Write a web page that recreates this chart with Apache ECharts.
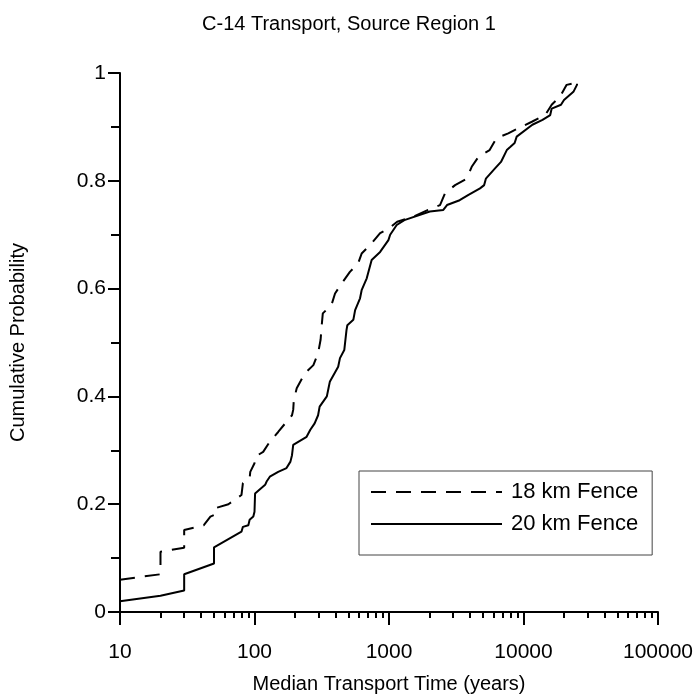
<!DOCTYPE html>
<html>
<head>
<meta charset="utf-8">
<script src="https://cdn.jsdelivr.net/npm/echarts@6/dist/echarts.min.js"></script>
<style>
  html, body { margin: 0; padding: 0; background: #fff; }
  #chart { width: 698px; height: 697px; }
</style>
</head>
<body>
<div id="chart"></div>
<script>
// Cumulative distributions of median C-14 transport time (years)
const fence18 = [
  [10,0.06],[20,0.07],[20,0.112],[30,0.119],[30,0.152],[42,0.161],[47,0.177],[50,0.18],[50,0.192],
  [64,0.20],[80,0.217],[82,0.239],[92,0.248],[93,0.26],[100,0.276],[101,0.288],[116,0.297],
  [130,0.316],[150,0.334],[173,0.353],[190,0.365],[194,0.375],[196,0.393],[206,0.415],[237,0.443],
  [274,0.458],[297,0.48],[310,0.505],[316,0.532],[322,0.554],[374,0.57],[397,0.591],[455,0.613],
  [512,0.631],[590,0.647],[626,0.665],[743,0.684],[859,0.703],[1000,0.712],[1150,0.724],[1500,0.733],
  [1954,0.746],[2395,0.755],[2610,0.777],[3100,0.792],[3790,0.804],[4120,0.826],[4640,0.845],
  [5600,0.857],[6300,0.879],[7700,0.888],[9600,0.90],[11640,0.91],[14500,0.922],[16200,0.941],
  [18660,0.956],[20930,0.978],[23500,0.981],[25000,0.985]
];
const fence20 = [
  [10,0.02],[20,0.03],[30,0.04],[30,0.07],[50,0.09],[50,0.12],[80,0.149],[82,0.158],[90,0.161],
  [92,0.171],[98,0.177],[100,0.186],[101,0.22],[120,0.236],[123,0.242],[130,0.251],[150,0.26],
  [173,0.267],[185,0.279],[190,0.291],[194,0.31],[244,0.325],[260,0.338],[280,0.35],[297,0.365],
  [305,0.381],[345,0.40],[355,0.415],[363,0.427],[419,0.455],[432,0.471],[465,0.486],[470,0.489],
  [483,0.523],[490,0.532],[543,0.542],[560,0.56],[609,0.582],[626,0.597],[683,0.619],[743,0.653],
  [859,0.668],[990,0.69],[1020,0.70],[1141,0.718],[1300,0.727],[2012,0.743],[2534,0.746],[2700,0.755],
  [3352,0.764],[3900,0.774],[4750,0.786],[5100,0.792],[5250,0.804],[6142,0.823],[6800,0.835],
  [7513,0.857],[8000,0.863],[8590,0.87],[8900,0.882],[11640,0.904],[13850,0.913],[15800,0.922],
  [16200,0.934],[19000,0.941],[20000,0.95],[23500,0.965],[24970,0.978],[25000,0.98]
];
const seriesNames = ['18 km Fence', '20 km Fence'];
const xDecades = [10, 100, 1000, 10000, 100000];
const yTicks = [0, 0.2, 0.4, 0.6, 0.8, 1];

// minor log ticks at 2..9 within each decade
const xMinorTicks = [];
for (let d = 0; d < xDecades.length - 1; d++) {
  for (let m = 2; m <= 9; m++) xMinorTicks.push(xDecades[d] * m);
}

const FONT = '"Liberation Sans", Arial, Helvetica, sans-serif';
const chart = echarts.init(document.getElementById('chart'), null, { renderer: 'canvas' });

chart.setOption({
  animation: false,
  backgroundColor: '#fff',
  title: {
    text: 'C-14 Transport, Source Region 1',
    left: 'center',
    top: 9,
    textStyle: { fontFamily: FONT, fontSize: 20, fontWeight: 'normal', color: '#000' }
  },
  legend: {
    data: seriesNames,
    orient: 'vertical',
    left: 359,
    top: 471,
    padding: [10, 14, 20, 11],
    itemWidth: 131,
    itemHeight: 22,
    itemGap: 10,
    borderColor: '#444',
    borderWidth: 1,
    // line sample only, no marker on it
    itemStyle: { color: 'rgba(0,0,0,0)', borderWidth: 0, opacity: 0 },
    textStyle: { fontFamily: FONT, fontSize: 22, color: '#000', padding: [0, 0, 0, 4] }
  },
  grid: {
    left: 120, right: 40, top: 73, bottom: 85,
    containLabel: false,
    outerBoundsMode: 'none'
  },
  xAxis: [
    {
      type: 'log',
      logBase: 10,
      min: xDecades[0],
      max: xDecades[xDecades.length - 1],
      position: 'bottom',
      name: 'Median Transport Time (years)',
      nameLocation: 'middle',
      nameGap: 62,
      nameTextStyle: { fontFamily: FONT, fontSize: 20, color: '#000' },
      axisLine: { lineStyle: { color: '#000', width: 2 } },
      axisTick: { inside: false, length: 13, lineStyle: { color: '#000', width: 2 } },
      minorTick: { show: false },
      axisLabel: {
        fontFamily: FONT, fontSize: 21, color: '#000', margin: 30,
        formatter: v => String(Math.round(v))
      },
      splitLine: { show: false }
    },
    {
      type: 'log',
      logBase: 10,
      min: xDecades[0],
      max: xDecades[xDecades.length - 1],
      position: 'bottom',
      axisLine: { show: false },
      axisTick: { show: true, inside: false, length: 6, customValues: xMinorTicks,
                  lineStyle: { color: '#000', width: 2 } },
      axisLabel: { show: false },
      splitLine: { show: false }
    }
  ],
  yAxis: {
    type: 'value',
    min: yTicks[0],
    max: yTicks[yTicks.length - 1],
    interval: 0.2,
    name: 'Cumulative Probability',
    nameLocation: 'middle',
    nameRotate: 90,
    nameGap: 92,
    nameTextStyle: { fontFamily: FONT, fontSize: 20, color: '#000' },
    axisLine: { show: true, lineStyle: { color: '#000', width: 2 } },
    axisTick: { show: true, inside: false, length: 12, lineStyle: { color: '#000', width: 2 } },
    minorTick: { show: true, splitNumber: 2, length: 9, lineStyle: { color: '#000', width: 2 } },
    axisLabel: { fontFamily: FONT, fontSize: 21, color: '#000', margin: 14 },
    splitLine: { show: false },
    minorSplitLine: { show: false }
  },
  series: [
    {
      name: seriesNames[0],
      type: 'line',
      xAxisIndex: 0,
      data: fence18,
      symbol: 'none',
      showSymbol: false,
      lineStyle: { color: '#000', width: 2, type: [15, 10] },
      itemStyle: { color: '#000' }
    },
    {
      name: seriesNames[1],
      type: 'line',
      xAxisIndex: 0,
      data: fence20,
      symbol: 'none',
      showSymbol: false,
      lineStyle: { color: '#000', width: 2, type: 'solid' },
      itemStyle: { color: '#000' }
    }
  ]
});
</script>
</body>
</html>
